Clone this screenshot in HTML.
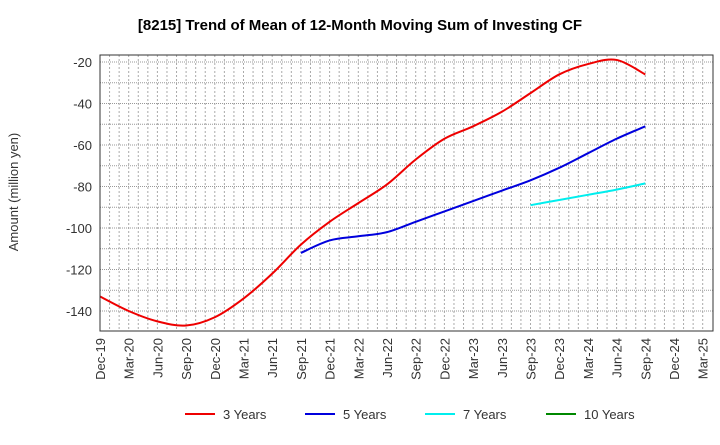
<!DOCTYPE html>
<html><head><meta charset="utf-8"><style>
body{margin:0;background:#fff;font-family:"Liberation Sans",sans-serif}
</style></head><body>
<svg id="c" width="720" height="440" xmlns="http://www.w3.org/2000/svg">
<text x="360" y="30" text-anchor="middle" font-size="15" font-weight="bold">[8215]  Trend of Mean of 12-Month Moving Sum of Investing CF</text>
<text transform="translate(18,192) rotate(-90)" text-anchor="middle" font-size="13" fill="#333">Amount (million yen)</text>
<g id="grid"></g><g id="series"></g><g id="axes"></g>
<g id="legend"></g>
</svg>
<script>
const quarters=["Dec-19","Mar-20","Jun-20","Sep-20","Dec-20","Mar-21","Jun-21","Sep-21","Dec-21","Mar-22","Jun-22","Sep-22","Dec-22","Mar-23","Jun-23","Sep-23","Dec-23","Mar-24","Jun-24","Sep-24","Dec-24","Mar-25"];
const yTicks=[-20,-40,-60,-80,-100,-120,-140];
const s3=[-133,-140,-145,-147,-143,-134,-122,-108,-97,-88,-79,-67,-57,-51,-44,-35,-26,-21,-19,-26];
const s5=[-112,-106,-104,-102,-97,-92,-87,-82,-77,-71,-64,-57,-51];
const s5Start=7;
const s7=[-89,-86.5,-84,-81.5,-78.5];
const s7Start=15;
const L=100,R=713,T=55,B=331,QW=28.7;
const X=i=>L+i*QW;
const Y=v=>62+(v+20)*(311-62)/(-120);
const NS="http://www.w3.org/2000/svg";
function mk(t,a,p){const e=document.createElementNS(NS,t);for(const k in a)e.setAttribute(k,a[k]);p.appendChild(e);return e;}
const g=document.getElementById('grid'),ax=document.getElementById('axes'),se=document.getElementById('series'),lg=document.getElementById('legend');
for(let m=1;m<=63;m++){const x=L+m*QW/3;if(x>=R)break;const l=mk('line',{x1:x,x2:x,y1:T,y2:B,stroke:'#aaa','stroke-dasharray':'2,2','stroke-width':1},g);

}
for(let v=-20;v>=-150;v-=10){const y=Y(v);if(y<T||y>B)continue;const l=mk('line',{x1:L,x2:R,y1:y,y2:y,stroke:'#999','stroke-dasharray':'1,1','stroke-width':1},g);

}
const fr=mk('rect',{x:L,y:T,width:R-L,height:B-T,fill:'none',stroke:'#333','stroke-width':1},ax);


yTicks.forEach(v=>{const t=mk('text',{x:L-8,y:Y(v)+5,'text-anchor':'end','font-size':13,fill:'#333'},ax);t.textContent=v;

});
quarters.forEach((q,i)=>{const t=mk('text',{transform:`translate(${X(i)+5},338) rotate(-90)`,'text-anchor':'end','font-size':13,fill:'#333'},ax);t.textContent=q;

});
function path(arr,start){const p=arr.map((v,i)=>[X(start+i),Y(v)]);let d=`M${p[0][0]},${p[0][1]}`;
for(let i=0;i<p.length-1;i++){const p0=p[Math.max(i-1,0)],p1=p[i],p2=p[i+1],p3=p[Math.min(i+2,p.length-1)];
d+=` C${p1[0]+(p2[0]-p0[0])/6},${p1[1]+(p2[1]-p0[1])/6} ${p2[0]-(p3[0]-p1[0])/6},${p2[1]-(p3[1]-p1[1])/6} ${p2[0]},${p2[1]}`;}return d;}
const l3=mk('path',{d:path(s3,0),fill:'none',stroke:'#e00','stroke-width':2},se);


const l5=mk('path',{d:path(s5,s5Start),fill:'none',stroke:'#00d','stroke-width':2},se);


const l7=mk('path',{d:path(s7,s7Start),fill:'none',stroke:'#0ee','stroke-width':2},se);


const leg=[["3 Years","#e00",185],["5 Years","#00d",305],["7 Years","#0ee",425],["10 Years","#080",546]];
leg.forEach(([n,c,x])=>{const ln=mk('line',{x1:x,x2:x+30,y1:414,y2:414,stroke:c,'stroke-width':2},lg);


const t=mk('text',{x:x+38,y:419,'font-size':13,fill:'#333'},lg);t.textContent=n;

});
</script>
</body></html>
